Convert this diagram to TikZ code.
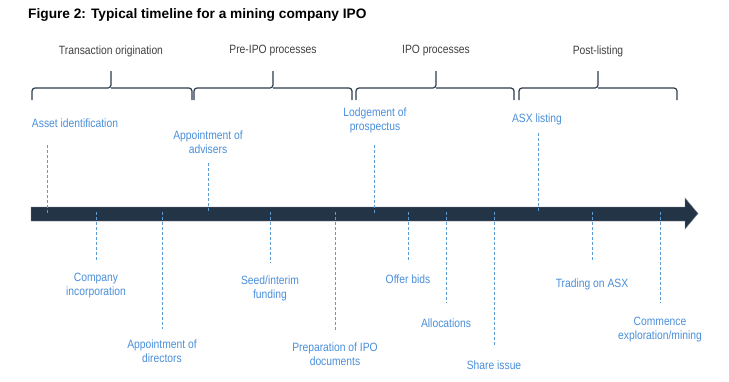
\documentclass[tikz,border=0pt]{standalone}
\usepackage{fontspec}
\setmainfont{Liberation Sans}
\newfontfamily\narrowfont[FakeStretch=0.86]{Liberation Sans}
\usepackage{tikz}
\usetikzlibrary{arrows.meta,positioning,calc}
\usepackage{xcolor}
\definecolor{Navy}{HTML}{243447}
\definecolor{Slate}{HTML}{2F3D4C}
\definecolor{SkyText}{HTML}{4A8FDB}
\definecolor{SkyLine}{HTML}{5B9BD5}
\definecolor{Ink}{HTML}{404040}

\begin{document}
\begin{tikzpicture}[x=1pt,y=-1pt,
  event/.style={inner sep=0pt,align=center,text=SkyText,font=\narrowfont\fontsize{12}{14}\selectfont},
  phase/.style={inner sep=0pt,text=Ink,font=\narrowfont\fontsize{12}{14}\selectfont},
  tick/.style={SkyLine,line width=1pt,dash pattern=on 3pt off 2pt},
  bracket/.style={Slate,line width=1.2pt,rounded corners=3pt}]
  \fill[white] (0,0) rectangle (729,381);
  \useasboundingbox (0,0) rectangle (729,381);

  \node[anchor=base west,inner sep=0pt,font=\bfseries\fontsize{13.7}{16}\selectfont] (title) at (28,18.3)
    {Figure 2: Typical timeline for a mining company IPO};

  % phases and their brackets
  \foreach \i/\a/\c/\b/\t in {1/32/111/192/Transaction origination,2/194/273/352/Pre-IPO processes,
                              3/356/436/514/IPO processes,4/519/598/677/Post-listing}{
    \node[phase] (phase\i) at (\c,51) {\t};
    \coordinate (br\i left) at (\a,100);
    \coordinate (br\i mid) at (\c,88);
    \coordinate (br\i tip) at (\c,71);
    \coordinate (br\i right) at (\b,100);
    \draw[bracket] (br\i left) |- (br\i mid) -- (br\i tip);
    \draw[bracket] (br\i mid) -| (br\i right);
  }

  % timeline arrow
  \fill[Navy,draw=Navy!60!white,line width=0.4pt] (31,207) -- (685,207) -- (685,198) -- (698,213.5)
    -- (685,229) -- (685,221) -- (31,221) -- cycle;

  % events above the line
  \foreach \i/\x/\lx/\ly/\ye/\t in {1/47/75/123/145/Asset identification,
                                    2/208/208/142/163/{Appointment of\\advisers},
                                    3/374/375/120.5/145/{Lodgement of\\prospectus},
                                    4/538/537/119/133/ASX listing}{
    \node[event] (up\i) at (\lx,\ly) {\t};
    \coordinate (up\i start) at (\x,\ye);
    \coordinate (up\i end) at (\x,213);
    \draw[tick] (up\i start) -- (up\i end);
  }

  % events below the line
  \foreach \i/\x/\ly/\ye/\t in {1/96/286/262/{Company\\incorporation},
                                2/162/351/329/{Appointment of\\directors},
                                3/270/288/263/{Seed/interim\\funding},
                                4/335/354/332/{Preparation of IPO\\documents},
                                5/408/279/262/Offer bids,
                                6/446/323/303/Allocations,
                                7/494/365/347/Share issue,
                                8/592/284/262/Trading on ASX,
                                9/660/329.5/303/{Commence\\exploration/mining}}{
    \node[event] (low\i) at (\x,\ly) {\t};
    \coordinate (low\i start) at (\x,212);
    \coordinate (low\i end) at (\x,\ye);
    \draw[tick] (low\i start) -- (low\i end);
  }
\end{tikzpicture}
\end{document}
